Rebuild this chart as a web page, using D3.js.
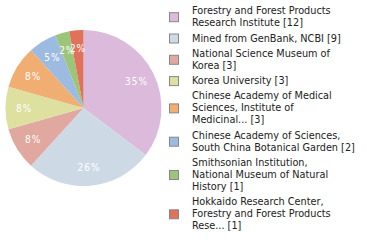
<!DOCTYPE html>
<html>
<head>
<meta charset="utf-8">
<script src="https://cdn.jsdelivr.net/npm/d3@7"></script>
<style>
  body { margin: 0; background: #fff; }
  svg { display: block; }
  text { font-family: "DejaVu Sans Condensed", "DejaVu Sans", sans-serif; }
</style>
</head>
<body>
<svg id="chart" width="380" height="240"></svg>
<script>
const labels = [
    ["Forestry and Forest Products", "Research Institute [12]"],
    ["Mined from GenBank, NCBI [9]"],
    ["National Science Museum of", "Korea [3]"],
    ["Korea University [3]"],
    ["Chinese Academy of Medical", "Sciences, Institute of", "Medicinal... [3]"],
    ["Chinese Academy of Sciences,", "South China Botanical Garden [2]"],
    ["Smithsonian Institution,", "National Museum of Natural", "History [1]"],
    ["Hokkaido Research Center,", "Forestry and Forest Products", "Rese... [1]"]
];
const counts = [12, 9, 3, 3, 3, 2, 1, 1];
const colors = ["#dcbadc", "#cddae6", "#e0a89e", "#dde09e", "#f0ae72", "#9dbbe0", "#9dc57a", "#e0725c"];

const svg = d3.select("#chart");
const cx = 83.5, cy = 108, radius = 78;
const total = d3.sum(counts);

const pie = d3.pie().sort(null).value(d => d);
const arcs = pie(counts);
const arc = d3.arc().innerRadius(0).outerRadius(radius);
const labelArc = d3.arc().innerRadius(radius * 0.76).outerRadius(radius * 0.76);

const g = svg.append("g").attr("transform", `translate(${cx},${cy})`);

g.selectAll("path")
    .data(arcs)
    .enter()
    .append("path")
    .attr("d", arc)
    .attr("fill", (d, i) => colors[i]);

g.selectAll("text")
    .data(arcs)
    .enter()
    .append("text")
    .attr("transform", d => `translate(${labelArc.centroid(d)})`)
    .attr("text-anchor", "middle")
    .attr("dy", "0.35em")
    .attr("fill", "#fff")
    .style("font-size", "10px")
    .style("letter-spacing", "1px")
    .text(d => Math.floor(d.data / total * 100) + "%");

// legend
const lineH = 12, gap = 3.3;
let y = 6.7;
const legend = svg.append("g");
labels.forEach((lines, i) => {
    const item = legend.append("g");
    const mid = y + 4.5 + (lines.length - 1) * lineH / 2;
    item.append("rect")
        .attr("x", 169.5)
        .attr("y", mid - 4.5)
        .attr("width", 9)
        .attr("height", 9)
        .attr("fill", colors[i])
        .attr("stroke", "#888")
        .attr("stroke-width", 1);
    lines.forEach((t, j) => {
        item.append("text")
            .attr("x", 192)
            .attr("y", y + 7.5 + j * lineH)
            .attr("fill", "#222")
            .style("font-size", "10.8px")
            .text(t);
    });
    y += lines.length * lineH + gap;
});
</script>
</body>
</html>
